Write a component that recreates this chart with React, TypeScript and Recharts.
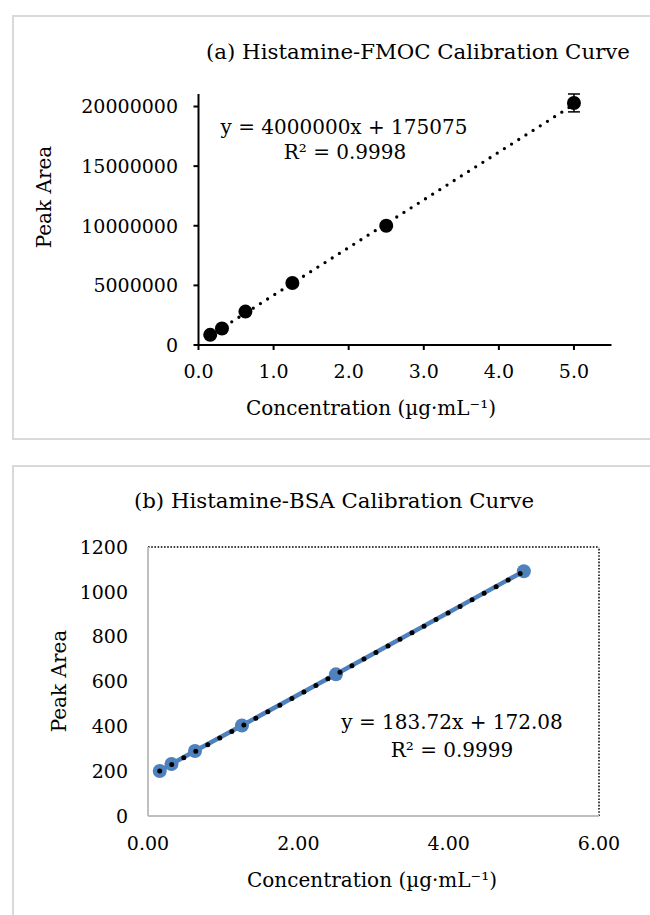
import React from 'react';
import { ScatterChart, Scatter, XAxis, YAxis, ErrorBar, ReferenceLine } from 'recharts';

const FONT = 'DejaVu Serif';

// ---- Panel (a) Histamine-FMOC ----
const concA = [0.156, 0.3125, 0.625, 1.25, 2.5, 5.0];
const areaA = [850000, 1380000, 2800000, 5200000, 10000000, 20300000];
const errA = [100000, 100000, 100000, 100000, 100000, 750000];
const trendAx = [0.156, 5.0];
const trendAy = [799075, 20175075];
const xTicksA = [0, 1, 2, 3, 4, 5];
const yTicksA = [0, 5000000, 10000000, 15000000, 20000000];

// ---- Panel (b) Histamine-BSA ----
const concB = [0.156, 0.3125, 0.625, 1.25, 2.5, 5.0];
const areaB = [201, 232, 290, 404, 632, 1092];
const trendBx = [0.156, 5.0];
const trendBy = [200.74, 1090.68];
const xTicksB = [0, 2, 4, 6];
const yTicksB = [0, 200, 400, 600, 800, 1000, 1200];

const dataA = concA.map((x, i) => ({ x, y: areaA[i], err: errA[i] }));
const trendA = trendAx.map((x, i) => ({ x, y: trendAy[i] }));
const dataB = concB.map((x, i) => ({ x, y: areaB[i] }));
const trendB = trendBx.map((x, i) => ({ x, y: trendBy[i] }));

const tickStyle = { fontFamily: FONT, fontSize: 19, fill: '#000' };

const BlackDot = (p: any) => <circle cx={p.cx} cy={p.cy} r={7} fill="#000" />;
const BlueDot = (p: any) => <circle cx={p.cx} cy={p.cy} r={7} fill="#4F81BD" />;
const NoDot = () => <g />;

export default function App() {
  return (
    <div style={{ position: 'absolute', left: 0, top: 0, width: 650, height: 915, overflow: 'hidden', background: '#fff' }}>
      <div style={{ position: 'absolute', left: 12, top: 15, width: 660, height: 421, border: '2px solid #d9d9d9' }} />
      <div style={{ position: 'absolute', left: 12, top: 465, width: 660, height: 480, border: '2px solid #d9d9d9' }} />

      <div style={{ position: 'absolute', left: 0, top: 0 }}>
        <ScatterChart width={650} height={440} margin={{ top: 94, right: 38.5, bottom: 65, left: 138.5 }}>
          <XAxis
            type="number" dataKey="x" domain={[0, 5.5]} ticks={xTicksA}
            tickFormatter={(v: number) => v.toFixed(1)} height={30}
            axisLine={{ stroke: '#000', strokeWidth: 2 }} tickLine={{ stroke: '#000', strokeWidth: 2 }}
            tickSize={5} tickMargin={15} tick={tickStyle} interval={0}
          />
          <YAxis
            type="number" dataKey="y" domain={[0, 21000000]} ticks={yTicksA}
            tickFormatter={(v: number) => String(v)} width={60}
            axisLine={{ stroke: '#000', strokeWidth: 2 }} tickLine={{ stroke: '#000', strokeWidth: 2 }}
            tickSize={5} tickMargin={15.5} tick={tickStyle} interval={0}
          />
          <Scatter
            data={trendA} shape={NoDot} isAnimationActive={false}
            line={{ stroke: '#000', strokeWidth: 3.3, strokeDasharray: '0 8.5', strokeLinecap: 'round' }}
          />
          <Scatter data={dataA} shape={BlackDot} isAnimationActive={false}>
            <ErrorBar dataKey="err" direction="y" width={6} stroke="#000" strokeWidth={1.5} />
          </Scatter>
        </ScatterChart>
      </div>

      <div style={{ position: 'absolute', left: 0, top: 440 }}>
        <ScatterChart width={650} height={475} margin={{ top: 107, right: 51, bottom: 69, left: 88 }}>
          <XAxis
            type="number" dataKey="x" domain={[0, 6]} ticks={xTicksB}
            tickFormatter={(v: number) => v.toFixed(2)} height={30}
            axisLine={{ stroke: '#bfbfbf', strokeWidth: 2 }} tickLine={false}
            tickSize={0} tickMargin={21} tick={tickStyle} interval={0}
          />
          <YAxis
            type="number" dataKey="y" domain={[0, 1200]} ticks={yTicksB}
            tickFormatter={(v: number) => String(v)} width={60}
            axisLine={{ stroke: '#bfbfbf', strokeWidth: 2 }} tickLine={false}
            tickSize={0} tickMargin={20} tick={tickStyle} interval={0}
          />
          <ReferenceLine y={1200} stroke="#000" strokeWidth={1.5} strokeDasharray="1.6 1.6" />
          <ReferenceLine x={6} stroke="#000" strokeWidth={1.5} strokeDasharray="1.6 1.6" />
          <Scatter
            data={dataB} shape={BlueDot} isAnimationActive={false}
            line={{ stroke: '#4F81BD', strokeWidth: 4.5 }}
          />
          <Scatter
            data={trendB} shape={NoDot} isAnimationActive={false}
            line={{ stroke: '#000', strokeWidth: 5, strokeDasharray: '0 13.7', strokeLinecap: 'round' }}
          />
        </ScatterChart>
      </div>

      <svg width={650} height={915} style={{ position: 'absolute', left: 0, top: 0, pointerEvents: 'none' }}
        fontFamily={FONT} fill="#000">
        <text x={418} y={51} textAnchor="middle" dominantBaseline="central" fontSize={21.3}>(a) Histamine-FMOC Calibration Curve</text>
        <text x={344} y={127} textAnchor="middle" dominantBaseline="central" fontSize={20}>y = 4000000x + 175075</text>
        <text x={345} y={152} textAnchor="middle" dominantBaseline="central" fontSize={20}>R² = 0.9998</text>
        <text transform="translate(44,197) rotate(-90)" textAnchor="middle" dominantBaseline="central" fontSize={20}>Peak Area</text>
        <text x={371} y={408} textAnchor="middle" dominantBaseline="central" fontSize={20}>Concentration (µg·mL⁻¹)</text>

        <text x={334} y={500} textAnchor="middle" dominantBaseline="central" fontSize={21.3}>(b) Histamine-BSA Calibration Curve</text>
        <text x={452} y={722} textAnchor="middle" dominantBaseline="central" fontSize={20}>y = 183.72x + 172.08</text>
        <text x={452} y={750} textAnchor="middle" dominantBaseline="central" fontSize={20}>R² = 0.9999</text>
        <text transform="translate(59,681) rotate(-90)" textAnchor="middle" dominantBaseline="central" fontSize={20}>Peak Area</text>
        <text x={372} y={880} textAnchor="middle" dominantBaseline="central" fontSize={20}>Concentration (µg·mL⁻¹)</text>
      </svg>
    </div>
  );
}
